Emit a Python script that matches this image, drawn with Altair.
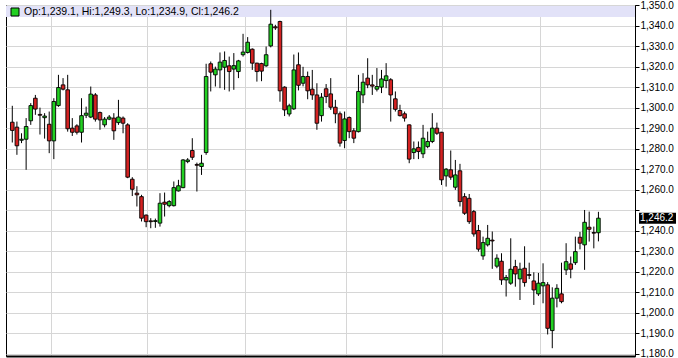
import altair as alt
import pandas as pd

# ---- data (daily candles, oldest first) ----
opens = [1293.0, 1290.6, 1284.2, 1284.7, 1293.7, 1304.7, 1296.8, 1295.2, 1292.0, 1283.9,
         1301.1, 1311.2, 1308.8, 1290.1, 1291.2, 1288.1, 1296.4, 1295.5, 1306.3, 1297.7,
         1291.7, 1294.5, 1295.0, 1292.8, 1295.0, 1291.7, 1265.2, 1258.4, 1256.7, 1247.7,
         1244.9, 1244.6, 1243.8, 1254.0, 1252.3, 1252.3, 1259.5, 1261.1, 1273.8, 1279.2,
         1272.4, 1271.4, 1278.2, 1321.5, 1316.1, 1318.5, 1319.8, 1320.5, 1318.9, 1317.7,
         1325.9, 1327.0, 1328.6, 1321.8, 1321.6, 1320.5, 1330.2, 1339.5, 1342.1, 1310.1,
         1297.0, 1299.5, 1321.0, 1312.0, 1315.3, 1309.1, 1306.3, 1296.2, 1309.3, 1306.8,
         1300.3, 1297.1, 1284.1, 1295.3, 1288.8, 1288.4, 1306.3, 1314.5, 1311.2, 1309.1,
         1310.1, 1313.3, 1313.7, 1304.4, 1298.7, 1297.1, 1291.7, 1278.2, 1280.7, 1277.6,
         1281.1, 1283.6, 1290.1, 1288.1, 1266.8, 1269.8, 1261.3, 1269.3, 1256.7, 1255.9,
         1249.4, 1240.2, 1227.8, 1233.2, 1235.5, 1222.8, 1225.2, 1216.1, 1214.5, 1222.6,
         1216.6, 1221.8, 1218.7, 1215.6, 1209.3, 1213.2, 1213.7, 1191.4, 1207.2, 1209.3,
         1221.0, 1223.9, 1224.5, 1236.9, 1233.2, 1241.8, 1239.2, 1239.1]
highs = [1301.0, 1293.3, 1287.6, 1295.0, 1302.3, 1306.3, 1300.1, 1297.4, 1298.2, 1304.7,
         1316.1, 1314.5, 1316.1, 1295.0, 1292.0, 1304.7, 1300.6, 1310.4, 1307.2, 1298.2,
         1295.5, 1296.5, 1297.4, 1303.9, 1295.8, 1292.5, 1266.2, 1261.8, 1257.6, 1248.0,
         1246.2, 1246.0, 1258.4, 1258.7, 1255.0, 1264.1, 1264.9, 1275.0, 1275.5, 1285.2,
         1273.3, 1277.1, 1321.5, 1322.6, 1320.1, 1327.0, 1327.5, 1325.0, 1326.7, 1323.4,
         1336.1, 1334.5, 1329.0, 1322.0, 1322.0, 1329.9, 1347.8, 1340.5, 1342.5, 1310.5,
         1302.0, 1326.0, 1327.0, 1320.0, 1317.7, 1318.5, 1312.0, 1307.2, 1311.6, 1314.5,
         1303.9, 1298.2, 1298.2, 1295.8, 1290.1, 1316.1, 1316.9, 1324.2, 1316.1, 1319.4,
         1318.5, 1321.8, 1314.5, 1308.0, 1301.5, 1298.2, 1291.9, 1283.6, 1283.6, 1291.7,
         1288.4, 1297.4, 1292.8, 1288.3, 1270.6, 1279.2, 1274.6, 1272.7, 1258.4, 1258.0,
         1250.2, 1242.9, 1237.2, 1242.9, 1239.7, 1228.6, 1229.1, 1218.5, 1236.4, 1225.9,
         1224.5, 1232.5, 1224.5, 1219.8, 1219.5, 1224.2, 1215.0, 1212.5, 1214.0, 1224.5,
         1234.0, 1227.5, 1237.2, 1239.5, 1250.2, 1249.4, 1242.1, 1249.3]
lows = [1283.1, 1277.1, 1282.8, 1269.8, 1291.7, 1296.6, 1287.0, 1285.0, 1277.9, 1275.0,
        1300.5, 1308.5, 1288.4, 1286.3, 1287.0, 1283.1, 1295.0, 1295.0, 1293.3, 1289.3,
        1290.5, 1294.0, 1284.4, 1291.7, 1287.6, 1265.7, 1257.0, 1251.9, 1244.6, 1241.8,
        1241.3, 1241.5, 1242.1, 1247.0, 1251.5, 1251.9, 1259.2, 1260.8, 1273.0, 1274.6,
        1259.2, 1267.3, 1277.1, 1308.0, 1310.4, 1309.6, 1308.8, 1308.0, 1308.8, 1314.5,
        1325.0, 1326.5, 1318.5, 1312.8, 1313.0, 1320.0, 1329.5, 1338.0, 1303.0, 1296.0,
        1295.8, 1299.0, 1308.5, 1310.5, 1304.2, 1303.9, 1289.3, 1293.3, 1302.3, 1299.0,
        1292.5, 1281.1, 1280.3, 1285.2, 1282.8, 1288.0, 1302.3, 1309.6, 1306.3, 1308.0,
        1307.2, 1309.6, 1293.3, 1298.2, 1295.8, 1293.3, 1273.0, 1275.0, 1275.0, 1275.5,
        1280.3, 1282.8, 1286.8, 1262.4, 1261.6, 1264.9, 1260.0, 1251.9, 1247.8, 1243.4,
        1237.2, 1229.9, 1225.9, 1232.4, 1221.5, 1221.8, 1213.7, 1208.0, 1213.7, 1212.8,
        1206.3, 1212.8, 1216.5, 1203.9, 1208.3, 1204.7, 1189.5, 1182.8, 1202.7, 1204.7,
        1218.5, 1216.9, 1223.4, 1231.0, 1221.0, 1234.8, 1231.5, 1234.9]
closes = [1289.0, 1281.5, 1284.7, 1290.9, 1301.1, 1299.4, 1296.4, 1296.0, 1283.9, 1303.1,
          1309.9, 1309.1, 1289.8, 1288.1, 1288.1, 1296.2, 1297.4, 1306.7, 1294.5, 1294.1,
          1294.5, 1295.5, 1288.8, 1295.5, 1292.5, 1266.2, 1260.3, 1257.6, 1246.2, 1244.5,
          1244.5, 1245.0, 1253.5, 1253.0, 1254.3, 1261.1, 1262.0, 1274.6, 1274.6, 1275.9,
          1272.0, 1273.0, 1315.3, 1317.4, 1318.9, 1322.3, 1323.1, 1317.7, 1320.6, 1322.9,
          1327.2, 1332.0, 1321.8, 1317.7, 1317.9, 1325.9, 1340.8, 1339.0, 1308.3, 1299.0,
          1301.0, 1318.5, 1311.0, 1315.3, 1308.3, 1306.3, 1292.5, 1305.2, 1305.5, 1300.3,
          1297.1, 1282.8, 1294.6, 1288.4, 1285.2, 1308.0, 1312.5, 1311.2, 1310.6, 1310.4,
          1314.1, 1315.6, 1306.3, 1299.3, 1296.2, 1295.0, 1275.0, 1280.0, 1278.7, 1285.2,
          1283.6, 1290.1, 1287.6, 1264.9, 1270.1, 1266.2, 1267.3, 1254.3, 1248.6, 1244.5,
          1238.5, 1231.1, 1234.3, 1236.4, 1235.1, 1226.7, 1216.1, 1217.3, 1221.3, 1219.0,
          1221.3, 1214.8, 1218.3, 1211.2, 1214.5, 1214.8, 1192.5, 1207.2, 1212.0, 1205.5,
          1225.0, 1221.3, 1229.9, 1234.0, 1244.2, 1240.8, 1238.9, 1246.2]

# vertical grid positions (in candle-index units) and price ticks
grid_x = [9.40, 30.21, 51.41, 73.37, 94.18, 115.37]
y_ticks = list(range(1180, 1351, 10))

GREEN = "#22d022"
RED = "#d42222"
BAND = "#e2e2f8"
GRID = "#d6d6d6"

df = pd.DataFrame({
    "i": list(range(1, len(opens) + 1)),
    "open": opens, "high": highs, "low": lows, "close": closes,
})
last = df.tail(1).copy()
o, h, l, c = opens[-1], highs[-1], lows[-1], closes[-1]
header = pd.DataFrame({"t": [f"Op:{o:,.1f}, Hi:{h:,.1f}, Lo:{l:,.1f}, Cl:{c:,.1f}"]})

W, H = 629, 351
xs = alt.Scale(domain=[0.72, 134.84], nice=False, zero=False)
ys = alt.Scale(domain=[1179.0, 1350.15], nice=False, zero=False)

x_axis = alt.Axis(values=grid_x, grid=True, gridColor=GRID, gridWidth=1,
                  labels=False, ticks=False, domain=True, domainColor="black",
                  domainWidth=2, title=None)
y_axis = alt.Axis(orient="right", values=y_ticks, format=",.1f", grid=True,
                  gridColor=GRID, gridWidth=1, tickColor="black", tickSize=4,
                  domainColor="black", domainWidth=1, labelColor="black",
                  labelFont="Liberation Sans", labelFontSize=10, labelPadding=1,
                  labelExpr="datum.value == 1250 ? '' : datum.label", title=None)

X = alt.X("i:Q", scale=xs, axis=x_axis)

band = alt.Chart(header).mark_rect(fill=BAND).encode(
    x=alt.value(0), x2=alt.value(W), y=alt.value(1), y2=alt.value(12))

wicks = alt.Chart(df).mark_rule(color="black", strokeWidth=1).encode(
    x=X, y=alt.Y("low:Q", scale=ys, axis=y_axis), y2="high:Q")

bodies = alt.Chart(df).mark_bar(width=3.6, stroke="black", strokeWidth=0.9).encode(
    x=X, y=alt.Y("open:Q", scale=ys, axis=y_axis), y2="close:Q",
    fill=alt.condition("datum.close >= datum.open", alt.value(GREEN), alt.value(RED)))

square = alt.Chart(header).mark_rect(fill=GREEN, stroke="black", strokeWidth=1).encode(
    x=alt.value(5), x2=alt.value(13), y=alt.value(3), y2=alt.value(11))

htext = alt.Chart(header).mark_text(align="left", baseline="middle", fontSize=10.5,
                                    font="Liberation Sans", color="black").encode(
    x=alt.value(18), y=alt.value(7), text="t:N")

lastbox = alt.Chart(last).mark_rule(color="black", strokeWidth=11).encode(
    x=alt.value(W + 4), x2=alt.value(W + 41),
    y=alt.Y("close:Q", scale=ys, axis=y_axis))

lasttext = alt.Chart(last).mark_text(align="left", baseline="middle", fontSize=10,
                                     font="Liberation Sans", color="white").encode(
    x=alt.value(W + 5), y=alt.Y("close:Q", scale=ys, axis=y_axis),
    text=alt.Text("close:Q", format=",.1f"))

chart = alt.layer(band, wicks, bodies, square, htext, lastbox, lasttext).properties(
    width=W, height=H,
    padding={"left": 6, "top": 5, "right": 43, "bottom": 2},
    autosize=alt.AutoSizeParams(type="none"),
    background="white",
).configure_view(stroke="black", strokeWidth=1)

chart.save("out.html", embed_options={"renderer": "svg", "actions": False})
